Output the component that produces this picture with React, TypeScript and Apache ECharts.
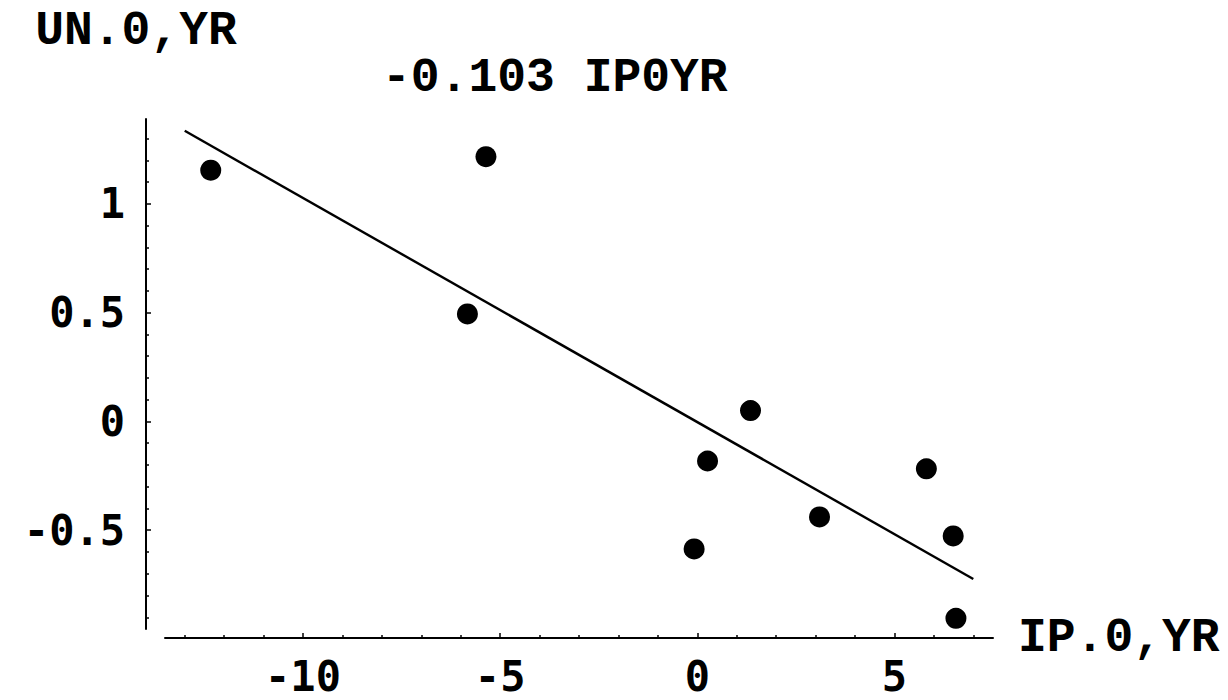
import React, { useEffect, useRef } from "react";
import * as echarts from "echarts";

// Data
const ipValues = [-12.34, -5.36, -5.83, 1.35, 0.26, -0.08, 3.1, 5.81, 6.49, 6.56];
const unValues = [1.155, 1.217, 0.494, 0.05, -0.182, -0.586, -0.439, -0.218, -0.526, -0.905];
const fitX = [-13, 7];
const fitY = [1.336, -0.724];
const xTickValues = [-10, -5, 0, 5];
const yTickValues = [-0.5, 0, 0.5, 1];
const xRange = [-13.5, 7.5];
const yRange = [-0.954, 1.39];
const titleText = "-0.103 IP0YR";
const xName = "IP.0,YR";
const yName = "UN.0,YR";

const monoTitle = "'Liberation Mono', 'DejaVu Sans Mono', monospace";
const monoTick = "'DejaVu Sans Mono', 'Liberation Mono', monospace";

export default function App() {
  const ref = useRef<HTMLDivElement>(null);
  useEffect(() => {
    document.body.style.margin = "0";
    const chart = echarts.init(ref.current!, undefined, { renderer: "svg" });
    const points = ipValues.map((x, i) => [x, unValues[i]]);
    const fit = fitX.map((x, i) => [x, fitY[i]]);
    const axisCommon = {
      type: "value" as const,
      splitLine: { show: false },
      axisLine: { show: true, onZero: false, lineStyle: { color: "#000", width: 2 } },
      axisTick: { show: true, inside: true, length: 5, lineStyle: { color: "#000", width: 1.5 } },
      minorTick: { show: true, splitNumber: 5, length: 3, lineStyle: { color: "#000", width: 1.5 } },
    };
    chart.setOption({
      animation: false,
      backgroundColor: "#fff",
      title: {
        text: titleText,
        left: 382,
        top: 54,
        padding: 0,
        textStyle: { fontFamily: monoTitle, fontWeight: "bold", fontSize: 48, color: "#000" },
      },
      grid: { left: 165, top: 119, width: 828, height: 510 },
      xAxis: {
        ...axisCommon,
        min: xRange[0],
        max: xRange[1],
        offset: 9,
        axisTick: { ...axisCommon.axisTick, customValues: xTickValues },
        axisLabel: {
          customValues: xTickValues,
          margin: 17,
          fontFamily: monoTick,
          fontWeight: "bold",
          fontSize: 42,
          color: "#000",
        },
        name: xName,
        nameLocation: "end",
        nameGap: 25,
        nameTextStyle: { fontFamily: monoTitle, fontWeight: "bold", fontSize: 48, color: "#000" },
      },
      yAxis: {
        ...axisCommon,
        min: yRange[0],
        max: yRange[1],
        offset: 19,
        axisTick: { ...axisCommon.axisTick, customValues: yTickValues },
        axisLabel: {
          customValues: yTickValues,
          margin: 21,
          fontFamily: monoTick,
          fontWeight: "bold",
          fontSize: 42,
          color: "#000",
        },
        name: yName,
        nameLocation: "end",
        nameGap: 64,
        nameTextStyle: {
          fontFamily: monoTitle,
          fontWeight: "bold",
          fontSize: 48,
          color: "#000",
          padding: [0, 20, 0, 0],
        },
      },
      series: [
        {
          type: "line",
          data: fit,
          showSymbol: false,
          lineStyle: { color: "#000", width: 2.4 },
          silent: true,
        },
        {
          type: "scatter",
          data: points,
          symbol: "circle",
          symbolSize: 21,
          itemStyle: { color: "#000", opacity: 1 },
        },
      ],
    });
    return () => chart.dispose();
  }, []);
  return (
    <div
      ref={ref}
      style={{ position: "absolute", left: 0, top: 0, width: 1228, height: 700 }}
    />
  );
}
